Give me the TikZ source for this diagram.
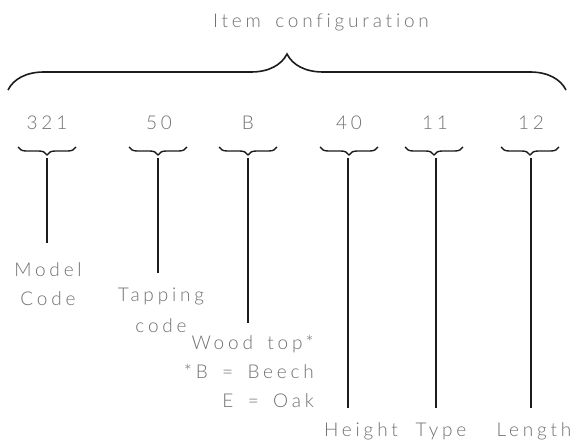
\documentclass[tikz,border=0pt]{standalone}
\usepackage{fontspec}
\setmainfont{Lato}[UprightFont=* Light, LetterSpace=20, WordSpace=1.6, Ligatures=NoCommon]
\usetikzlibrary{decorations.pathreplacing, positioning}

\definecolor{inkgray}{RGB}{112,112,112}
\definecolor{inkblack}{RGB}{28,28,28}

\begin{document}
\begin{tikzpicture}[
  x=1pt, y=-1pt,
  word/.style = {font=\fontsize{19}{29}\selectfont, text=inkgray, inner sep=0pt, align=center},
  bigbrace/.style = {draw=inkblack, line width=1.6pt, decorate, decoration={brace, amplitude=36pt}},
  smallbrace/.style = {draw=inkblack, line width=1.4pt, decorate, decoration={brace, amplitude=8pt}},
  stem/.style = {draw=inkblack, line width=2pt}
]
  \useasboundingbox (0,0) rectangle (576,443);

  % Title and the big brace
  \node[word, anchor=base] (title) at (321,28) {Item configuration};
  \coordinate (bigleft) at (8,90);
  \coordinate (bigright) at (566,90);
  \draw[bigbrace] (bigleft) -- (bigright);

  % Digits of the configuration
  \node[word, anchor=base] (model) at (47,130) {321};
  \node[word, anchor=base] (tapping) at (159,130) {50};
  \node[word, anchor=base] (wood) at (248,130) {B};
  \node[word, anchor=base] (height) at (349,130) {40};
  \node[word, anchor=base] (type) at (435,130) {11};
  \node[word, anchor=base] (length) at (531,130) {12};

  % Meaning of each part (base is the last line)
  \node[word, anchor=base] (modeltxt) at (48,306) {Model\\Code};
  \node[word, anchor=base] (tappingtxt) at (161,333) {Tapping\\[2pt]code};
  \node[word, anchor=base east, align=right] (woodtxt) at (314,408) {Wood top*\\*B = Beech\\E = Oak};
  \node[word, anchor=base] (heighttxt) at (361,437) {Height};
  \node[word, anchor=base] (typetxt) at (441,437) {Type};
  \node[word, anchor=base] (lengthtxt) at (534,437) {Length};

  % 321 -> Model Code
  \coordinate (modeltop) at (47,158);
  \coordinate (modelend) at (47,243);
  \draw[smallbrace] (76,147) -- (18,147);
  \draw[stem] (modeltop) -- (modelend);

  % 50 -> Tapping code
  \coordinate (tappingtop) at (158,158);
  \coordinate (tappingend) at (158,273);
  \draw[smallbrace] (187,147) -- (129,147);
  \draw[stem] (tappingtop) -- (tappingend);

  % B -> Wood top
  \coordinate (woodtop) at (248,158);
  \coordinate (woodend) at (248,323);
  \draw[smallbrace] (277,147) -- (219,147);
  \draw[stem] (woodtop) -- (woodend);

  % 40 -> Height
  \coordinate (heighttop) at (348,158);
  \coordinate (heightend) at (348,408);
  \draw[smallbrace] (378,147) -- (320,147);
  \draw[stem] (heighttop) -- (heightend);

  % 11 -> Type
  \coordinate (typetop) at (436,158);
  \coordinate (typeend) at (436,408);
  \draw[smallbrace] (463,147) -- (405,147);
  \draw[stem] (typetop) -- (typeend);

  % 12 -> Length
  \coordinate (lengthtop) at (531,158);
  \coordinate (lengthend) at (531,408);
  \draw[smallbrace] (559,147) -- (501,147);
  \draw[stem] (lengthtop) -- (lengthend);

\end{tikzpicture}
\end{document}
